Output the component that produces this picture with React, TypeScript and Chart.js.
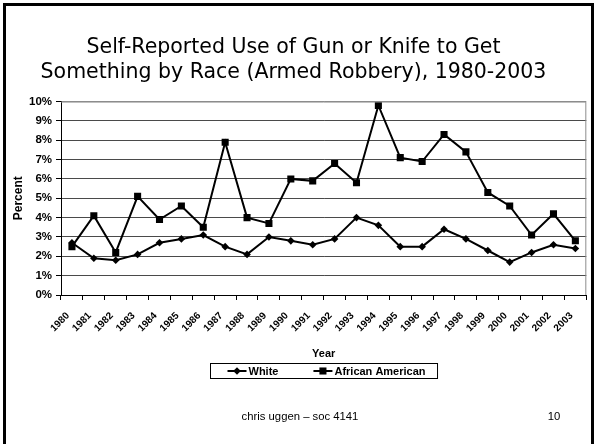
import React, { useEffect, useRef } from 'react';
import { Chart, registerables } from 'chart.js';

Chart.register(...registerables);

// Survey years on the category axis
const years = [
  '1980', '1981', '1982', '1983', '1984', '1985', '1986', '1987',
  '1988', '1989', '1990', '1991', '1992', '1993', '1994', '1995',
  '1996', '1997', '1998', '1999', '2000', '2001', '2002', '2003',
];

// Percent reporting use of a gun or knife to get something
const whiteValues = [
  2.7, 1.9, 1.8, 2.1, 2.7, 2.9, 3.1, 2.5, 2.1, 3.0, 2.8, 2.6,
  2.9, 4.0, 3.6, 2.5, 2.5, 3.4, 2.9, 2.3, 1.7, 2.2, 2.6, 2.4,
];
const africanAmericanValues = [
  2.5, 4.1, 2.2, 5.1, 3.9, 4.6, 3.5, 7.9, 4.0, 3.7, 6.0, 5.9,
  6.8, 5.8, 9.8, 7.1, 6.9, 8.3, 7.4, 5.3, 4.6, 3.1, 4.2, 2.8,
];

const seriesNames = ['White', 'African American'];
const yMin = 0;
const yMax = 10;
const yStep = 1;

const titleLines = [
  'Self-Reported Use of Gun or Knife to Get',
  'Something by Race (Armed Robbery), 1980-2003',
];
const xAxisTitle = 'Year';
const yAxisTitle = 'Percent';
const footerText = 'chris uggen \u2013 soc 4141';
const slideNumber = '10';

const SANS = '"Liberation Sans", Arial, sans-serif';

// Gray frame on the top and right sides of the plot area
const plotFrame = {
  id: 'plotFrame',
  afterDatasetsDraw(chart: any) {
    const { ctx, chartArea } = chart;
    ctx.save();
    ctx.strokeStyle = '#8c8c8c';
    ctx.lineWidth = 1;
    ctx.beginPath();
    ctx.moveTo(chartArea.left, chartArea.top + 0.5);
    ctx.lineTo(chartArea.right - 0.5, chartArea.top + 0.5);
    ctx.lineTo(chartArea.right - 0.5, chartArea.bottom);
    ctx.stroke();
    ctx.restore();
  },
};

function drawMarker(ctx: CanvasRenderingContext2D, style: string, x: number, y: number, r: number) {
  ctx.beginPath();
  if (style === 'rect') {
    const s = Math.SQRT1_2 * r;
    ctx.rect(x - s, y - s, 2 * s, 2 * s);
  } else {
    ctx.moveTo(x, y - r);
    ctx.lineTo(x + r, y);
    ctx.lineTo(x, y + r);
    ctx.lineTo(x - r, y);
    ctx.closePath();
  }
  ctx.fill();
}

// Boxed legend under the axis title, plus the slide footer
const boxedLegend = {
  id: 'boxedLegend',
  afterDraw(chart: any) {
    const { ctx, chartArea } = chart;
    const datasets = chart.data.datasets;
    ctx.save();
    ctx.font = `bold 11px ${SANS}`;
    ctx.textBaseline = 'middle';
    const padL = 17;
    const padR = 12;
    const lineLen = 19;
    const textGap = 2;
    const itemGap = 35;
    const widths = datasets.map((d: any) => ctx.measureText(d.label).width);
    let total = padL + padR;
    widths.forEach((w: number, i: number) => {
      total += lineLen + textGap + w + (i < widths.length - 1 ? itemGap : 0);
    });
    const cx = (chartArea.left + chartArea.right) / 2;
    const boxLeft = Math.round(cx - total / 2) + 0.5;
    const boxTop = 363.5;
    const boxH = 15;
    ctx.fillStyle = '#fff';
    ctx.fillRect(boxLeft, boxTop, total, boxH);
    ctx.strokeStyle = '#000';
    ctx.lineWidth = 1;
    ctx.strokeRect(boxLeft, boxTop, total, boxH);
    const midY = boxTop + boxH / 2;
    let x = boxLeft + padL;
    datasets.forEach((d: any, i: number) => {
      ctx.strokeStyle = d.borderColor;
      ctx.lineWidth = d.borderWidth;
      ctx.beginPath();
      ctx.moveTo(x, midY);
      ctx.lineTo(x + lineLen, midY);
      ctx.stroke();
      ctx.fillStyle = d.pointBackgroundColor;
      drawMarker(ctx, d.pointStyle, x + lineLen / 2, midY, d.pointRadius);
      ctx.fillStyle = '#000';
      ctx.textAlign = 'left';
      ctx.fillText(d.label, x + lineLen + textGap, midY + 0.5);
      x += lineLen + textGap + widths[i] + itemGap;
    });

    ctx.font = `11.3px ${SANS}`;
    ctx.fillStyle = '#000';
    ctx.textAlign = 'center';
    ctx.fillText(footerText, 300, 417);
    ctx.fillText(slideNumber, 554, 417);
    ctx.restore();
  },
};

export default function App() {
  const canvasRef = useRef<HTMLCanvasElement | null>(null);

  useEffect(() => {
    document.body.style.margin = '0';
    const canvas = canvasRef.current;
    if (!canvas) return;

    const chart = new Chart(canvas, {
      type: 'line',
      data: {
        labels: years,
        datasets: [
          {
            label: seriesNames[0],
            data: whiteValues,
            borderColor: '#000',
            backgroundColor: '#000',
            borderWidth: 2,
            pointStyle: 'rectRot',
            pointRadius: 3.8,
            pointBackgroundColor: '#000',
            pointBorderColor: '#000',
            pointBorderWidth: 0,
            tension: 0,
          },
          {
            label: seriesNames[1],
            data: africanAmericanValues,
            borderColor: '#000',
            backgroundColor: '#000',
            borderWidth: 2,
            pointStyle: 'rect',
            pointRadius: 5,
            pointBackgroundColor: '#000',
            pointBorderColor: '#000',
            pointBorderWidth: 0,
            tension: 0,
          },
        ],
      },
      options: {
        responsive: false,
        animation: false,
        devicePixelRatio: 1,
        layout: { padding: { left: 0, right: 7, top: 0, bottom: 0 } },
        plugins: {
          legend: { display: false },
          tooltip: { enabled: false },
          title: {
            display: true,
            text: titleLines,
            color: '#000',
            font: { family: '"DejaVu Sans", Verdana, sans-serif', size: 20.5, weight: 'normal', lineHeight: 1.25 },
            padding: { top: 34.7, bottom: 15.6 },
          },
        },
        scales: {
          x: {
            type: 'category',
            offset: true,
            grid: {
              offset: true,
              drawOnChartArea: false,
              drawTicks: true,
              tickLength: 5,
              tickColor: '#000',
              color: '#000',
            },
            border: { color: '#000', width: 1 },
            ticks: {
              autoSkip: false,
              minRotation: 45,
              maxRotation: 45,
              padding: 10,
              labelOffset: -4,
              color: '#000',
              font: { family: SANS, size: 10, weight: 'bold' },
            },
            title: {
              display: true,
              text: xAxisTitle,
              color: '#000',
              font: { family: SANS, size: 11, weight: 'bold', lineHeight: 1.2 },
              padding: { top: 0, bottom: 83.4 },
            },
            afterFit(scale: any) {
              scale.height = 149;
            },
          },
          y: {
            min: yMin,
            max: yMax,
            grid: {
              color: (c: any) => (c.tick && c.tick.value === yMax ? '#8c8c8c' : '#4a4a4a'),
              tickColor: '#000',
              tickLength: 5,
              drawTicks: true,
            },
            border: { color: '#000', width: 1 },
            ticks: {
              stepSize: yStep,
              padding: 4,
              color: '#000',
              font: { family: SANS, size: 11.5, weight: 'bold' },
              callback: (v: any) => `${v}%`,
            },
            title: {
              display: true,
              text: yAxisTitle,
              color: '#000',
              font: { family: SANS, size: 12, weight: 'bold', lineHeight: 1.2 },
              padding: { top: 11.4, bottom: 0 },
            },
            afterFit(scale: any) {
              scale.width = 61;
            },
          },
        },
      },
      plugins: [plotFrame, boxedLegend],
    });

    return () => chart.destroy();
  }, []);

  return (
    <div style={{ position: 'relative', width: 594, height: 444, overflow: 'hidden', background: '#fff' }}>
      <canvas ref={canvasRef} width={594} height={444} style={{ position: 'absolute', left: 0, top: 0 }} />
      <div
        style={{
          position: 'absolute',
          left: 3,
          top: 3,
          width: 585,
          height: 470,
          border: '3px solid #000',
          pointerEvents: 'none',
        }}
      />
    </div>
  );
}
